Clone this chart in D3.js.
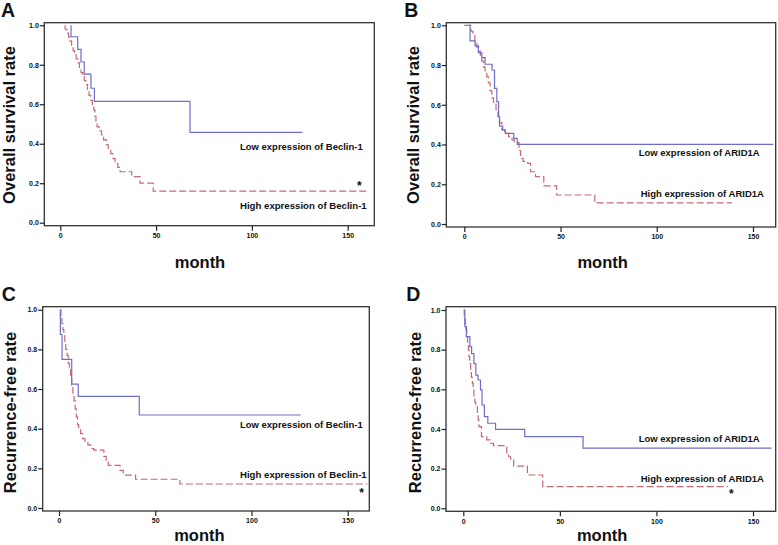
<!DOCTYPE html>
<html><head><meta charset="utf-8">
<script src="https://cdn.jsdelivr.net/npm/d3@7"></script>
<style>body{margin:0;background:#fff}svg{display:block}text{font-family:"Liberation Sans",Arial,sans-serif;font-weight:bold;fill:#111}</style>
</head><body>
<script>
// ---- data (time in months, survival proportion) ----
const xTicks = [0, 50, 100, 150];
const yTicks = [0, 0.2, 0.4, 0.6, 0.8, 1.0];
const panelLetters = ["A", "B", "C", "D"];
const yTitles = ["Overall survival rate", "Overall survival rate", "Recurrence-free rate", "Recurrence-free rate"];
const lowLabels = ["Low expression of Beclin-1", "Low expression of ARID1A", "Low expression of Beclin-1", "Low expression of ARID1A"];
const highLabels = ["High expression of Beclin-1", "High expression of ARID1A", "High expression of Beclin-1", "High expression of ARID1A"];
const significant = [true, false, true, true];

const osBeclinLow = [[5.6,1.0],[5.6,0.942],[9.1,0.878],[10.8,0.814],[12.5,0.753],[16.0,0.681],[17.8,0.615],[67.7,0.458],[126.4,0.458]];
const osBeclinHigh = [[2.5,1.0],[2.5,0.98],[3.5,0.96],[4.3,0.94],[5.1,0.92],[5.9,0.89],[6.7,0.87],[7.5,0.85],[8.3,0.83],[9.2,0.81],[10,0.78],[10.8,0.76],[11.7,0.74],[12.5,0.72],[13.3,0.70],[14.2,0.67],[15,0.645],[15.9,0.62],[16.7,0.595],[17.5,0.57],[18.1,0.54],[18.6,0.51],[19.2,0.485],[20.3,0.465],[21.5,0.445],[22.6,0.42],[24,0.395],[25,0.375],[26.3,0.35],[27.5,0.325],[28.6,0.30],[30,0.28],[31.2,0.258],[37.3,0.233],[41.6,0.20],[48.5,0.16],[160.5,0.16]];
const osAridLow = [[2.5,1.0],[3.0,0.922],[5.6,0.896],[7.3,0.862],[9.1,0.837],[10.8,0.804],[14.4,0.775],[15.7,0.683],[16.9,0.616],[17.8,0.54],[18.3,0.493],[19.9,0.473],[21.3,0.456],[25.7,0.431],[27.5,0.401],[160.5,0.401]];
const osAridHigh = [[0,1.0],[2.5,1.0],[3.5,0.97],[4.5,0.95],[5.5,0.92],[6.5,0.89],[7.5,0.87],[8.3,0.85],[9.1,0.82],[10,0.79],[10.8,0.765],[11.7,0.74],[12.5,0.71],[13.4,0.67],[14.3,0.635],[15.2,0.607],[16.5,0.575],[17.5,0.54],[18.3,0.51],[19.5,0.475],[21,0.456],[23,0.44],[24.8,0.423],[26,0.41],[28.4,0.37],[29.2,0.33],[30.5,0.315],[33,0.305],[34.4,0.263],[37,0.238],[41.3,0.192],[48,0.146],[67.8,0.106],[139,0.106]];
const rfsBeclinLow = [[0.7,1.0],[0.7,0.875],[1.6,0.75],[6.6,0.625],[10.0,0.5625],[41.7,0.469],[125.6,0.469]];
const rfsBeclinHigh = [[0.6,1.0],[1.0,0.96],[1.5,0.93],[2.0,0.9],[2.5,0.87],[3.0,0.84],[3.5,0.8],[4.2,0.77],[4.8,0.73],[5.4,0.70],[6.0,0.66],[6.6,0.62],[7.2,0.58],[7.8,0.54],[8.4,0.50],[9.0,0.46],[9.6,0.42],[10.2,0.395],[11.2,0.375],[12.3,0.35],[13.5,0.334],[15.0,0.318],[16.5,0.30],[18,0.292],[23.3,0.26],[24.5,0.24],[25.6,0.215],[31.7,0.19],[33.4,0.166],[39.8,0.145],[62.8,0.121],[160.2,0.121]];
const rfsAridLow = [[0.4,1.0],[0.8,0.916],[1.6,0.866],[3.4,0.815],[4.3,0.78],[5.5,0.73],[6.5,0.672],[7.6,0.647],[8.9,0.597],[9.7,0.521],[10.9,0.462],[12.7,0.429],[16.7,0.398],[31.8,0.361],[62,0.303],[159.6,0.303]];
const rfsAridHigh = [[0,1.0],[0.5,0.96],[1.0,0.93],[1.4,0.9],[1.8,0.866],[2.2,0.83],[2.6,0.8],[2.9,0.765],[3.3,0.73],[3.8,0.697],[4.2,0.66],[4.7,0.63],[5.1,0.6],[5.5,0.563],[6.0,0.535],[6.4,0.513],[7.3,0.479],[7.7,0.445],[8.1,0.412],[9.4,0.361],[12.1,0.345],[13.9,0.328],[15.6,0.316],[22.5,0.28],[23.5,0.26],[24.5,0.244],[26.1,0.213],[33.2,0.168],[41.1,0.109],[137,0.109]];

const lowSeries = [osBeclinLow, osAridLow, rfsBeclinLow, rfsAridLow];
const highSeries = [osBeclinHigh, osAridHigh, rfsBeclinHigh, rfsAridHigh];

// ---- layout ----
const W = 778, H = 545;
const layout = [
  {left:44.3, right:374.3, top:22.7, x0:60.3, x150:347.7, y1:25.3, y0:222.7, ox:0, oy:0, lowX:240, lowY:150, highX:240, highY:208.7, starX:359.3, starY:190.3, lowW:122.7, highW:126.7},
  {left:446.3, right:775.7, top:22.7, x0:464.3, x150:753, y1:25.3, y0:224, ox:403.3, oy:0, lowX:638.7, lowY:156.2, highX:640.7, highY:197.3, lowW:121, highW:123.3},
  {left:42.7, right:369.3, top:306.7, x0:59, x150:347.7, y1:309.7, y0:508, ox:0.7, oy:284, lowX:240, lowY:428.2, highX:240, highY:477.7, starX:361.7, starY:497, lowW:122.7, highW:126.7},
  {left:446, right:775.7, top:306.7, x0:463.3, x150:753, y1:310, y0:508.3, ox:405.3, oy:284, lowX:638.7, lowY:442.2, highX:640.7, highY:481.5, starX:731.3, starY:497.7, lowW:121, highW:123.3}
];

const svg = d3.select("body").append("svg").attr("width", W).attr("height", H);

layout.forEach((L, i) => {
  const g = svg.append("g");
  const x = d3.scaleLinear().domain([0,150]).range([L.x0, L.x150]);
  const y = d3.scaleLinear().domain([0,1]).range([L.y0, L.y1]);
  const bottom = L.y0 + 3;

  // frame
  g.append("rect").attr("x", L.left).attr("y", L.top)
    .attr("width", L.right - L.left).attr("height", bottom - L.top)
    .attr("fill", "none").attr("stroke", "#333").attr("stroke-width", 1.3);

  // axes
  const ya = g.append("g").attr("transform", `translate(${L.left},0)`)
    .call(d3.axisLeft(y).tickValues(yTicks).tickFormat(d3.format(".1f")).tickSize(4.5).tickSizeOuter(0));
  const xa = g.append("g").attr("transform", `translate(0,${bottom})`)
    .call(d3.axisBottom(x).tickValues(xTicks).tickFormat(d3.format("d")).tickSize(5).tickSizeOuter(0));
  [ya, xa].forEach(a => {
    a.select(".domain").remove();
    a.selectAll("line").attr("stroke", "#222").attr("stroke-width", 1.2);
    a.selectAll("text").attr("font-size", 7).attr("font-weight", "bold").attr("fill", "#222")
      .attr("font-family", '"Liberation Sans",Arial,sans-serif');
  });
  ya.selectAll("text").attr("x", -5.5);
  xa.selectAll("text").attr("y", 7.5);

  // curves
  const line = d3.line().x(d => x(d[0])).y(d => y(d[1])).curve(d3.curveStepAfter);
  g.append("path").datum(highSeries[i]).attr("d", line).attr("fill", "none")
    .attr("stroke", "#c46a74").attr("stroke-width", 1.2).attr("stroke-dasharray", "7,3");
  g.append("path").datum(lowSeries[i]).attr("d", line).attr("fill", "none")
    .attr("stroke", "#6e6ec6").attr("stroke-width", 1.2);

  // labels
  g.append("text").attr("x", L.lowX).attr("y", L.lowY).attr("font-size", 9.5)
    .attr("textLength", L.lowW).attr("lengthAdjust", "spacingAndGlyphs").text(lowLabels[i]);
  g.append("text").attr("x", L.highX).attr("y", L.highY).attr("font-size", 9.5)
    .attr("textLength", L.highW).attr("lengthAdjust", "spacingAndGlyphs").text(highLabels[i]);
  if (significant[i]) {
    g.append("text").attr("x", L.starX).attr("y", L.starY).attr("font-size", 12)
      .attr("text-anchor", "middle").text("*");
  }

  // titles
  g.append("text").attr("x", 1 + L.ox).attr("y", 16.7 + L.oy).attr("font-size", 19.5).text(panelLetters[i]);
  g.append("text").attr("transform", `translate(${15.3 + L.ox},${(i<2?125:412.5)}) rotate(-90)`)
    .attr("text-anchor", "middle").attr("font-size", 16.5).text(yTitles[i]);
  g.append("text").attr("x", (L.x0 + L.x150)/2 + (i%2 ? -6 : -4)).attr("y", i<2 ? 268.3 : 541.3)
    .attr("text-anchor", "middle").attr("font-size", 16.5).text("month");
});
</script>
</body></html>
